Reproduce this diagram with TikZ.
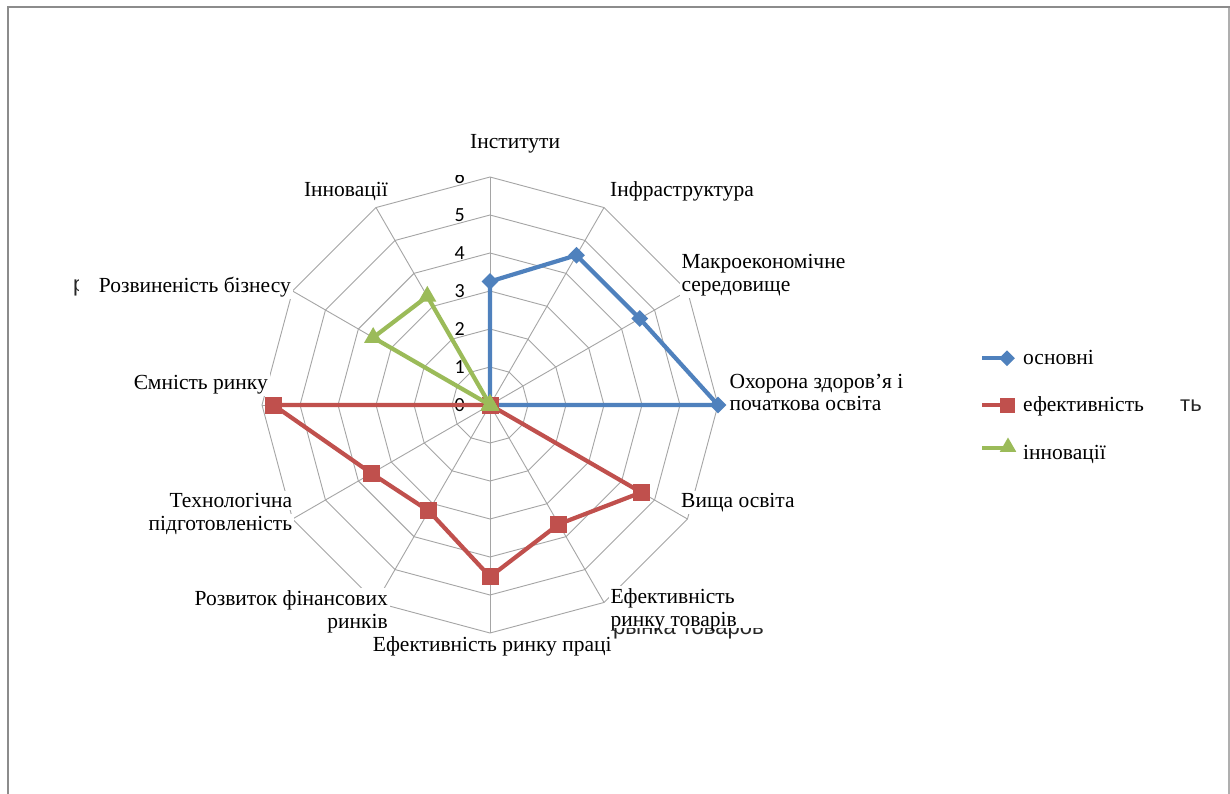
\documentclass[tikz,border=0pt]{standalone}
\usepackage{fontspec}
\setmainfont{Liberation Serif}
\newfontfamily\calibf{Carlito}
\newfontfamily\arialf{Liberation Sans}
\usetikzlibrary{shapes.geometric}
\definecolor{sblue}{RGB}{79,129,189}
\definecolor{sred}{RGB}{192,80,77}
\definecolor{sgreen}{RGB}{155,187,89}
\definecolor{gridc}{RGB}{165,165,165}
\definecolor{framec}{RGB}{140,140,140}
\definecolor{framer}{RGB}{175,175,175}
\begin{document}
\begin{tikzpicture}[x=1pt,y=-1pt,
  lab/.style={font=\fontsize{21.5}{24}\selectfont, fill=white, inner sep=2pt},
  ghost/.style={font=\arialf\fontsize{22}{24}\selectfont, text=black!85, inner sep=0pt},
  tick/.style={font=\calibf\fontsize{20}{22}\selectfont, inner sep=0pt, anchor=east},
  gridline/.style={draw=gridc, line width=0.9pt},
  series/.style={line width=4.2pt, line join=round},
  legline/.style={line width=3.8pt},
  dmark/.style={diamond, fill=sblue, inner sep=0pt, minimum width=17pt, minimum height=17pt},
  smark/.style={rectangle, fill=sred, inner sep=0pt, minimum size=17pt},
  tmark/.style={regular polygon, regular polygon sides=3, fill=sgreen, inner sep=0pt, minimum size=21pt},
]
\useasboundingbox (0,0) rectangle (1230,794);
\fill[white] (0,0) rectangle (1230,794);
% frame
\draw[framec, line width=2pt] (8,7) -- (8,794);
\draw[framer, line width=2pt] (1229,7) -- (1229,794);
\draw[framec, line width=2.5pt] (7,7) -- (1230,7);

% grid
\begin{scope}[shift={(490,405)}]
  \foreach \k in {1,...,6}{
    \draw[gridline] (-90:{38*\k}) \foreach \i in {1,...,11}{ -- ({-90+30*\i}:{38*\k}) } -- cycle;
  }
  \foreach \i in {0,...,11}{
    \draw[gridline] (0,0) -- ({-90+30*\i}:228);
  }
  \foreach \v [count=\i from 0] in {3.25,4.55,4.55,6,0,0,0,0,0,0,0,0}
    \coordinate (b\i) at ({-90+30*\i}:{38*\v});
  \foreach \v [count=\i from 0] in {0,0,0,0,4.6,3.62,4.52,3.22,3.6,5.7,0,0}
    \coordinate (r\i) at ({-90+30*\i}:{38*\v});
  \foreach \v [count=\i from 0] in {0,0,0,0,0,0,0,0,0,0,3.55,3.3}
    \coordinate (g\i) at ({-90+30*\i}:{38*\v});
\end{scope}

% tick labels
\foreach \k in {0,...,5}
  \node[tick] (t\k) at (465,{405-38*\k}) {\k};
\begin{scope}
  \clip (440,175.5) rectangle (475,200);
  \node[tick] (t6) at (465,177) {6};
\end{scope}

% ghost texts
\begin{scope}
  \clip (600,628) rectangle (800,645);
  \node[ghost, anchor=base west] (gh1) at (613,634.5) {рынка товаров};
\end{scope}
\node[ghost, anchor=base west] (gh2) at (1180,411.7) {ть};
\begin{scope}
  \clip (60,270) rectangle (78,300);
  \node[ghost, anchor=base west] (gh3) at (73,291) {р};
\end{scope}

% category labels
\node[lab, anchor=base west] (l0) at (468,149) {Інститути};
\node[lab, anchor=base west] (l1) at (608,196.7) {Інфраструктура};
\node[lab, anchor=base west] (l2a) at (679.3,268.3) {Макроекономічне};
\node[lab, anchor=base west] (l2b) at (679.3,291.7) {середовище};
\node[lab, anchor=base west] (l3a) at (727.3,388.3) {Охорона здоров’я і};
\node[lab, anchor=base west] (l3b) at (727.3,410.7) {початкова освіта};
\node[lab, anchor=base west] (l4) at (679,507.7) {Вища освіта};
\node[lab, anchor=base west] (l5a) at (608.3,603.3) {Ефективність};
\node[lab, anchor=base west, fill=none] (l5b) at (608.3,626.7) {ринку товарів};
\node[lab, anchor=base west] (l6) at (370.7,651.7) {Ефективність ринку праці};
\node[lab, anchor=base east] (l7a) at (390,605) {Розвиток фінансових};
\node[lab, anchor=base east] (l7b) at (390,628.3) {ринків};
\node[lab, anchor=base east] (l8a) at (294.3,507.7) {Технологічна};
\node[lab, anchor=base east] (l8b) at (294.3,530.7) {підготовленість};
\node[lab, anchor=base east] (l9) at (270,389.3) {Ємність ринку};
\node[lab, anchor=base east] (l10) at (293,292.7) {Розвиненість бізнесу};
\node[lab, anchor=base east] (l11) at (390,196.7) {Інновації};

% series
\draw[series, sblue] (b0) -- (b1) -- (b2) -- (b3) -- (b4) -- (b5) -- (b6) -- (b7) -- (b8) -- (b9) -- (b10) -- (b11) -- cycle;
\foreach \i in {0,...,11} \node[dmark] (bm\i) at (b\i) {};
\draw[series, sred] (r0) -- (r1) -- (r2) -- (r3) -- (r4) -- (r5) -- (r6) -- (r7) -- (r8) -- (r9) -- (r10) -- (r11) -- cycle;
\foreach \i in {0,...,11} \node[smark] (rm\i) at (r\i) {};
\draw[series, sgreen] (g0) -- (g1) -- (g2) -- (g3) -- (g4) -- (g5) -- (g6) -- (g7) -- (g8) -- (g9) -- (g10) -- (g11) -- cycle;
\foreach \i in {0,...,11} \node[tmark] (gm\i) at (g\i) {};

% legend
\coordinate (lb0) at (982,358.3);
\coordinate (lb1) at (1007,358.3);
\draw[legline, sblue] (lb0) -- (lb1);
\node[dmark, minimum width=16pt, minimum height=16pt] (lbm) at (lb1) {};
\coordinate (lr0) at (982,405);
\coordinate (lr1) at (1007.5,405);
\draw[legline, sred] (lr0) -- (lr1);
\node[smark, minimum size=15pt] (lrm) at (lr1) {};
\coordinate (lg0) at (982,448);
\coordinate (lg1) at (1008,447);
\draw[legline, sgreen] (lg0) -- (1007,448);
\node[tmark, minimum size=19pt] (lgm) at (lg1) {};
\node[lab, anchor=base west, fill=none] (e1) at (1021,364) {основні};
\node[lab, anchor=base west, fill=none] (e2) at (1021,411.7) {ефективність};
\node[lab, anchor=base west, fill=none] (e3) at (1021,459.3) {інновації};
\end{tikzpicture}
\end{document}
